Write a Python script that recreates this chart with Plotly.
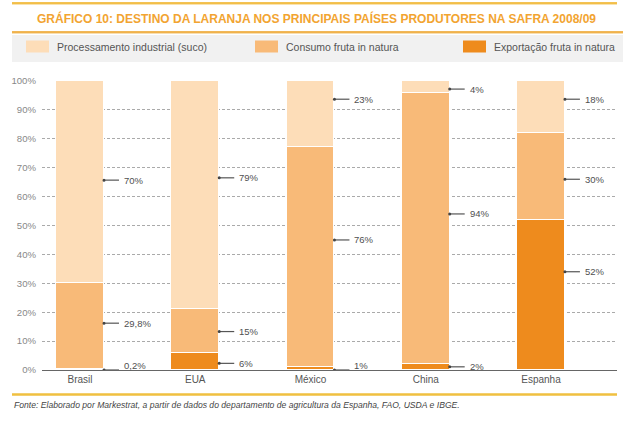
import plotly.graph_objects as go

countries = ["Brasil", "EUA", "México", "China", "Espanha"]
exportacao = [0.2, 6, 1, 2, 52]
consumo = [29.8, 15, 76, 94, 30]
processamento = [70, 79, 23, 4, 18]

series_names = ["Exportação fruta in natura", "Consumo fruta in natura", "Processamento industrial (suco)"]
series_colors = ["#EE8B1D", "#F8BA78", "#FDDDB8"]

# label texts and the height (in %) where each leader line is placed
label_texts = [
    ["0,2%", "29,8%", "70%"],
    ["6%", "15%", "79%"],
    ["1%", "76%", "23%"],
    ["2%", "94%", "4%"],
    ["52%", "30%", "18%"],
]
label_heights = [
    [0, 16.2, 65.7],
    [2.3, 13.3, 66.5],
    [0, 45, 93.7],
    [1.1, 54, 97.2],
    [34, 66, 93.7],
]

y_ticks = list(range(0, 101, 10))
y_ticktext = [f"{v}%" for v in y_ticks]

FONT = "Liberation Sans"
BAR_W = 0.416
W, H = 631, 421
xpos = list(range(len(countries)))


def px_x(px):
    """pixel column -> paper x (whole figure)"""
    return px / W


def py(px):
    """pixel row (from top) -> paper y (whole figure)"""
    return (H - px) / H


fig = go.Figure()
for name, vals, col in zip(series_names, [exportacao, consumo, processamento], series_colors):
    fig.add_trace(go.Bar(
        x=xpos, y=vals, name=name, width=BAR_W,
        marker=dict(color=col, line=dict(color="white", width=1)),
        showlegend=False, hoverinfo="skip",
    ))

shapes = []
annotations = []

# leader lines, dots and labels
for i, (texts, hs) in enumerate(zip(label_texts, label_heights)):
    edge = i + BAR_W / 2
    for t, h in zip(texts, hs):
        shapes.append(dict(type="line", xref="x", yref="y", xsizemode="pixel", xanchor=edge,
                           x0=0, x1=15, y0=h, y1=h, line=dict(color="#555555", width=1.2), layer="above"))
        shapes.append(dict(type="circle", xref="x", yref="y", xsizemode="pixel", ysizemode="pixel",
                           xanchor=edge, yanchor=h, x0=-1.5, x1=1.5, y0=-1.5, y1=1.5,
                           fillcolor="#444444", line=dict(width=0), layer="above"))
        annotations.append(dict(x=edge, y=h, xref="x", yref="y", text=t, showarrow=False,
                                xanchor="left", yanchor="middle", xshift=18,
                                yshift=5 if h == 0 else 0,
                                font=dict(family=FONT, size=9.5, color="#505050")))


def hrule(x0, x1, yc, thick, color):
    return dict(type="line", xref="paper", yref="paper", x0=px_x(x0), x1=px_x(x1),
                y0=py(yc), y1=py(yc), line=dict(color=color, width=thick), layer="above")


# title lines and footnote line (decorative rules)
rules = [(12, 617, 3.3, "#F2BE48"), (12, 623, 32.3, "#F0B24C"), (12, 617, 394.5, "#F0C040")]
for x0, x1, yc, col in rules:
    shapes.append(hrule(x0, x1, yc, 2, col))
    # same rule drawn also through a full-figure overlay axis, for robustness
    fig.add_trace(go.Scatter(x=[x0, x1], y=[yc, yc], mode="lines", xaxis="x2", yaxis="y2",
                             line=dict(color=col, width=2), showlegend=False, hoverinfo="skip"))

# legend band
shapes.append(dict(type="rect", xref="paper", yref="paper", x0=px_x(12), x1=px_x(623),
                   y0=py(62), y1=py(35), fillcolor="#F1F1F1", line=dict(width=0),
                   layer="below"))

# manual legend
legend_order = [2, 1, 0]
legend_x = [26, 255, 463]
for lx, idx in zip(legend_x, legend_order):
    shapes.append(dict(type="rect", xref="paper", yref="paper",
                       x0=px_x(lx), x1=px_x(lx + 23),
                       y0=py(52.5), y1=py(40.5),
                       fillcolor=series_colors[idx], line=dict(width=0)))
    annotations.append(dict(x=px_x(lx + 29), y=py(46.5), xref="paper", yref="paper",
                            text=series_names[idx], showarrow=False, xanchor="left", yanchor="middle",
                            font=dict(family=FONT, size=10.5, color="#555555")))

# title
annotations.append(dict(x=px_x(316), y=py(18.5), xref="paper", yref="paper",
                        text="<b>GRÁFICO 10: DESTINO DA LARANJA NOS PRINCIPAIS PAÍSES PRODUTORES NA SAFRA 2008/09</b>",
                        showarrow=False, xanchor="center", yanchor="middle",
                        font=dict(family=FONT, size=12, color="#F2A431")))
# footnote
annotations.append(dict(x=px_x(12), y=py(405), xref="paper", yref="paper",
                        text="<i>Fonte: Elaborado por Markestrat, a partir de dados do departamento de agricultura da Espanha, FAO, USDA e IBGE.</i>",
                        showarrow=False, xanchor="left", yanchor="middle",
                        font=dict(family=FONT, size=8.6, color="#444444")))

fig.update_layout(
    width=W, height=H,
    margin=dict(l=0, r=0, t=0, b=0, autoexpand=False),
    barmode="stack", bargap=0,
    paper_bgcolor="white", plot_bgcolor="rgba(0,0,0,0)",
    showlegend=False,
    shapes=shapes, annotations=annotations,
    xaxis=dict(domain=[px_x(42), px_x(617)], range=[-0.33, 4.66], tickvals=xpos, ticktext=countries,
               showgrid=False, zeroline=False, automargin=False,
               showline=True, linecolor="#666666", linewidth=1.2, ticks="", fixedrange=True,
               tickfont=dict(family=FONT, size=10, color="#555555")),
    yaxis=dict(domain=[py(370), py(81)], range=[0, 100], tickvals=y_ticks, ticktext=y_ticktext,
               showgrid=True, automargin=False,
               gridcolor="#AAAAAA", gridwidth=1, griddash="3px,2px", zeroline=False, showline=False,
               ticks="", ticklabelstandoff=5, fixedrange=True,
               tickfont=dict(family=FONT, size=9.6, color="#888888")),
    xaxis2=dict(domain=[0, 1], range=[0, W], anchor="y2", visible=False, fixedrange=True),
    yaxis2=dict(domain=[0, 1], range=[H, 0], anchor="x2", visible=False, fixedrange=True),
)

fig.write_html("out.html", config={"displayModeBar": False},
               post_script="document.body.style.margin='0';")
